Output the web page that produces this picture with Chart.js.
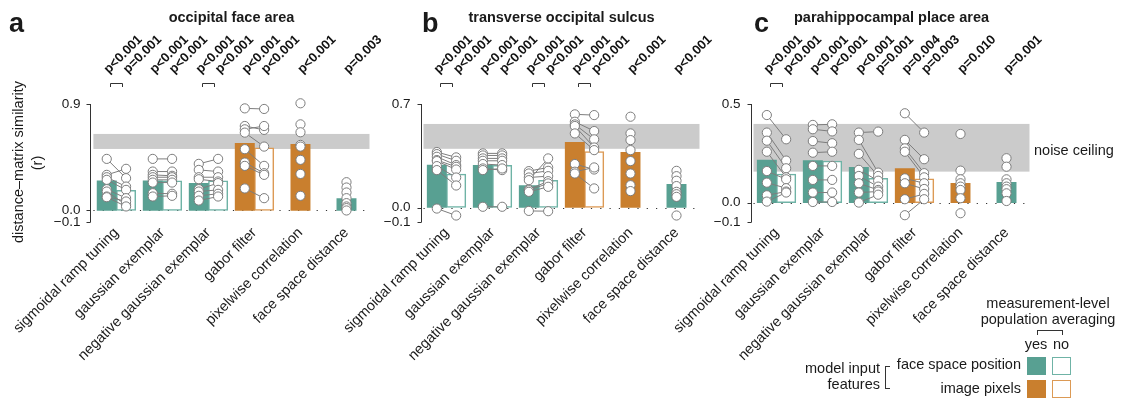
<!DOCTYPE html>
<html>
<head>
<meta charset="utf-8">
<script src="https://cdn.jsdelivr.net/npm/chart.js@4.4.1/dist/chart.umd.min.js"></script>
<style>
body { margin: 0; background: #fff; }
#fig { position: relative; width: 1124px; height: 401px; overflow: hidden; font-family: "Liberation Sans", Arial, sans-serif; color: #1a1a1a; }
#fig canvas { position: absolute; top: 0; }
.t { position: absolute; white-space: nowrap; font-size: 14.5px; line-height: 1; }
.c { transform: translate(-50%, -50%); }
.r { transform: translate(-100%, -50%); }
.l { transform: translate(0, -50%); }
.b { font-weight: bold; }
.letter { position: absolute; font-weight: bold; font-size: 27px; line-height: 1; }
.sq { position: absolute; box-sizing: border-box; }
.ln { position: absolute; background: #333; }
</style>
</head>
<body>
<div id="fig">
  <canvas id="ofa" width="412" height="401" style="left:0px"></canvas>
  <canvas id="tos" width="452" height="401" style="left:290px"></canvas>
  <canvas id="ppa" width="452" height="401" style="left:620px"></canvas>

  <div class="letter" style="left:9px;top:10px">a</div>
  <div class="letter" style="left:422px;top:10px">b</div>
  <div class="letter" style="left:754px;top:10px">c</div>
  <div class="t c b" style="left:231.5px;top:17px">occipital face area</div>
  <div class="t c b" style="left:561.5px;top:17px">transverse occipital sulcus</div>
  <div class="t c b" style="left:891.5px;top:17px">parahippocampal place area</div>

  <div class="t c" style="left:18px;top:162px;transform:translate(-50%,-50%) rotate(-90deg)">distance–matrix similarity</div>
  <div class="t c" style="left:37px;top:163px;transform:translate(-50%,-50%) rotate(-90deg)">(r)</div>

  <div class="t l" style="left:1034px;top:150px">noise ceiling</div>

  <div class="t c" style="left:1048px;top:303px">measurement-level</div>
  <div class="t c" style="left:1048px;top:319px">population averaging</div>
  <div class="ln" style="left:1037px;top:330px;width:26px;height:1px"></div>
  <div class="ln" style="left:1037px;top:330px;width:1px;height:5px"></div>
  <div class="ln" style="left:1062px;top:330px;width:1px;height:5px"></div>
  <div class="t c" style="left:1036px;top:344px">yes</div>
  <div class="t c" style="left:1061px;top:344px">no</div>
  <div class="t r" style="left:1021px;top:364px">face space position</div>
  <div class="t r" style="left:1021px;top:388px">image pixels</div>
  <div class="t r" style="left:880px;top:368px">model input</div>
  <div class="t r" style="left:880px;top:384px">features</div>
  <div class="ln" style="left:885px;top:366px;width:1px;height:23px"></div>
  <div class="ln" style="left:885px;top:366px;width:5px;height:1px"></div>
  <div class="ln" style="left:885px;top:388px;width:5px;height:1px"></div>
  <div class="sq" style="left:1027px;top:357px;width:19px;height:18px;background:#58a092"></div>
  <div class="sq" style="left:1052px;top:357px;width:19px;height:18px;border:1.5px solid #6fb3a6"></div>
  <div class="sq" style="left:1027px;top:380px;width:19px;height:18px;background:#c97f2e"></div>
  <div class="sq" style="left:1052px;top:380px;width:19px;height:18px;border:1.5px solid #dc9a55"></div>
</div>

<script>
// model names, shared by the three panels
const categories = ['sigmoidal ramp tuning', 'gaussian exemplar', 'negative gaussian exemplar',
  'gabor filter', 'pixelwise correlation', 'face space distance'];
const featureType = ['face', 'face', 'face', 'image', 'image', 'face'];

// a: occipital face area
const ofaTicks = [-0.1, 0, 0.9];
const ofaYes = [0.25, 0.25, 0.23, 0.567, 0.56, 0.10];
const ofaNo = [0.17, 0.25, 0.25, 0.53, null, null];
const ofaSubjYes = [
  [0.436, 0.301, 0.281, 0.259, 0.180, 0.160, 0.118, 0.112],
  [0.436, 0.329, 0.301, 0.281, 0.259, 0.236, 0.146, 0.118],
  [0.394, 0.343, 0.281, 0.264, 0.180, 0.160, 0.124, 0.084],
  [0.863, 0.714, 0.686, 0.658, 0.518, 0.405, 0.377, 0.186],
  [0.906, 0.728, 0.661, 0.554, 0.540, 0.428, 0.309, 0.124],
  [0.239, 0.194, 0.152, 0.104, 0.062, 0.034, 0.020, 0.000]
];
const ofaSubjNo = [
  [0.273, 0.352, 0.202, 0.174, 0.104, 0.048, 0.076, 0.034],
  [0.436, 0.329, 0.293, 0.281, 0.259, 0.236, 0.141, 0.124],
  [0.436, 0.329, 0.281, 0.245, 0.231, 0.174, 0.141, 0.118],
  [0.858, 0.681, 0.714, 0.540, 0.377, 0.315, 0.301, 0.104]
];
const ofaNoise = [0.52, 0.647];
const ofaP = ['p<0.001', 'p=0.001', 'p<0.001', 'p<0.001', 'p<0.001', 'p<0.001',
  'p<0.001', 'p<0.001', 'p<0.001', 'p=0.003'];
const ofaBrackets = [0, 2];

// b: transverse occipital sulcus
const tosTicks = [-0.1, 0, 0.7];
const tosYes = [0.287, 0.285, 0.149, 0.440, 0.373, 0.156];
const tosNo = [0.226, 0.285, 0.183, 0.379, null, null];
const tosSubjYes = [
  [0.375, 0.361, 0.343, 0.321, 0.314, 0.280, 0.253, -0.007],
  [0.366, 0.352, 0.332, 0.316, 0.294, 0.264, 0.253, 0.005],
  [0.246, 0.230, 0.203, 0.185, 0.122, 0.117, 0.106, -0.023],
  [0.630, 0.580, 0.562, 0.551, 0.501, 0.294, 0.242, 0.230],
  [0.614, 0.501, 0.456, 0.388, 0.314, 0.230, 0.151, 0.111],
  [0.248, 0.212, 0.181, 0.145, 0.106, 0.090, 0.072, -0.054]
];
const tosSubjNo = [
  [0.339, 0.316, 0.287, 0.275, 0.257, 0.203, 0.149, -0.054],
  [0.366, 0.352, 0.332, 0.316, 0.287, 0.253, 0.264, 0.005],
  [0.271, 0.248, 0.212, 0.332, 0.178, 0.163, 0.140, -0.025],
  [0.625, 0.517, 0.461, 0.406, 0.388, 0.257, 0.271, 0.129]
];
const tosNoise = [0.397, 0.565];
const tosP = ['p<0.001', 'p<0.001', 'p<0.001', 'p<0.001', 'p<0.001', 'p<0.001',
  'p<0.001', 'p<0.001', 'p<0.001', 'p<0.001'];
const tosBrackets = [0, 2, 3];

// c: parahippocampal place area
const ppaTicks = [-0.1, 0, 0.5];
const ppaYes = [0.216, 0.213, 0.179, 0.172, 0.098, 0.103];
const ppaNo = [0.144, 0.211, 0.123, 0.120, null, null];
const ppaSubjYes = [
  [0.444, 0.355, 0.314, 0.258, 0.160, 0.101, 0.037, 0.005],
  [0.394, 0.372, 0.312, 0.253, 0.186, 0.115, 0.051, 0.003],
  [0.355, 0.318, 0.247, 0.166, 0.135, 0.098, 0.051, 0.000],
  [0.453, 0.318, 0.275, 0.258, 0.123, 0.098, 0.017, -0.064],
  [0.348, 0.162, 0.118, 0.098, 0.081, 0.064, 0.022, -0.054],
  [0.225, 0.182, 0.118, 0.098, 0.081, 0.068, 0.047, 0.008]
];
const ppaSubjNo = [
  [0.321, 0.213, 0.174, 0.128, 0.118, 0.073, 0.056, 0.051],
  [0.397, 0.361, 0.301, 0.258, 0.186, 0.115, 0.051, 0.003],
  [0.360, 0.152, 0.135, 0.111, 0.081, 0.064, 0.056, 0.040],
  [0.355, 0.220, 0.149, 0.128, 0.098, 0.069, 0.044, 0.017]
];
const ppaNoise = [0.157, 0.399];
const ppaP = ['p<0.001', 'p<0.001', 'p<0.001', 'p<0.001', 'p<0.001', 'p=0.001',
  'p=0.004', 'p=0.003', 'p=0.010', 'p=0.001'];
const ppaBrackets = [0];

const TEAL = '#58a092', TEAL_LINE = '#6fb3a6', ORANGE = '#c97f2e', ORANGE_LINE = '#dc9a55';
const DOT = '#7d7d7d';
const FONT = '"Liberation Sans", Arial, sans-serif';
const BAR_W = 19.3;
const DOT_OFF = 0.21; // half a bar, in category units

// bar centres: left/right of the category when both exist, centred otherwise
function yesX(no, i) { return no[i] != null ? i - DOT_OFF : i; }

function yesBars(yes, no) {
  return yes.map(function(v, i) { return {x: yesX(no, i), y: v}; });
}

function noBars(no) {
  const out = [];
  no.forEach(function(v, i) { if (v != null) out.push({x: i + DOT_OFF, y: v}); });
  return out;
}

function pairPoints(subjYes, subjNo) {
  const pts = [];
  subjNo.forEach(function(col, i) {
    col.forEach(function(v, k) {
      pts.push({x: i - DOT_OFF, y: subjYes[i][k]}, {x: i + DOT_OFF, y: v}, {x: i, y: null});
    });
  });
  return pts;
}

function singlePoints(subjYes, from) {
  const pts = [];
  for (let i = from; i < subjYes.length; i++)
    subjYes[i].forEach(function(v) { pts.push({x: i, y: v}); });
  return pts;
}

function fmtTick(v) {
  if (Math.abs(v) < 1e-9) return '0.0';
  return v < 0 ? '\u2212' + Math.abs(v).toFixed(1) : v.toFixed(1);
}

const extras = {
  id: 'extras',
  beforeDatasetsDraw(chart, args, opts) {
    const ctx = chart.ctx, a = chart.chartArea, y = chart.scales.y;
    ctx.save();
    const top = y.getPixelForValue(opts.noise[1]), bot = y.getPixelForValue(opts.noise[0]);
    ctx.fillStyle = '#cbcbcb';
    ctx.fillRect(a.left, top, a.right - a.left, bot - top);
    const z = Math.round(y.getPixelForValue(0)) + 0.5;
    ctx.strokeStyle = '#333';
    ctx.lineWidth = 1.2;
    ctx.setLineDash([1.2, 8.1]);
    ctx.beginPath();
    ctx.moveTo(a.left, z);
    ctx.lineTo(a.right, z);
    ctx.stroke();
    ctx.restore();
  },
  afterDraw(chart, args, opts) {
    const ctx = chart.ctx, a = chart.chartArea, y = chart.scales.y, xl = chart.scales.xl;
    ctx.save();
    // offset y axis with ticks
    const ax = Math.round(a.left - 3) + 0.5;
    ctx.strokeStyle = '#333';
    ctx.lineWidth = 1;
    ctx.beginPath();
    ctx.moveTo(ax, y.getPixelForValue(y.max));
    ctx.lineTo(ax, y.getPixelForValue(y.min));
    y.ticks.forEach(function(t) {
      const py = Math.round(y.getPixelForValue(t.value)) + 0.5;
      ctx.moveTo(ax - 4, py);
      ctx.lineTo(ax, py);
    });
    ctx.stroke();

    // p-values over every bar, left to right
    const xs = chart.getDatasetMeta(0).data.concat(chart.getDatasetMeta(1).data)
      .map(function(b) { return b.x; })
      .sort(function(m, n) { return m - n; });
    ctx.font = 'bold 13px ' + FONT;
    ctx.fillStyle = '#111';
    ctx.textAlign = 'left';
    ctx.textBaseline = 'alphabetic';
    xs.forEach(function(x, k) {
      ctx.save();
      ctx.translate(x + 2, 74);
      ctx.rotate(-Math.PI / 4);
      ctx.fillText(opts.pLabels[k], 0, 0);
      ctx.restore();
    });

    // yes-vs-no brackets
    ctx.beginPath();
    opts.brackets.forEach(function(i) {
      const x0 = Math.round(xl.getPixelForValue(i - DOT_OFF) + 3) + 0.5;
      const x1 = Math.round(xl.getPixelForValue(i + DOT_OFF) - 4) + 0.5;
      ctx.moveTo(x0, 87);
      ctx.lineTo(x0, 83.5);
      ctx.lineTo(x1, 83.5);
      ctx.lineTo(x1, 87);
    });
    ctx.stroke();
    ctx.restore();
  }
};

function makePanel(id, p) {
  const fills = featureType.map(function(t) { return t === 'face' ? TEAL : ORANGE; });
  const edges = featureType.filter(function(t, i) { return p.no[i] != null; })
    .map(function(t) { return t === 'face' ? TEAL_LINE : ORANGE_LINE; });
  const barOpts = {
    xAxisID: 'xl', yAxisID: 'y', grouped: false,
    barPercentage: 1, categoryPercentage: 1, maxBarThickness: BAR_W
  };
  return new Chart(document.getElementById(id), {
    type: 'bar',
    data: {
      labels: categories,
      datasets: [
        Object.assign({
          label: 'yes', data: yesBars(p.yes, p.no),
          backgroundColor: fills, borderWidth: 0, order: 2
        }, barOpts),
        Object.assign({
          label: 'no', data: noBars(p.no),
          backgroundColor: '#fff', borderColor: edges, borderWidth: 1.5, borderSkipped: false, order: 2
        }, barOpts),
        {
          type: 'scatter', label: 'pairs', data: pairPoints(p.subjYes, p.subjNo),
          xAxisID: 'xl', yAxisID: 'y', showLine: true, spanGaps: false,
          borderColor: DOT, borderWidth: 1, pointRadius: 4.6, pointBorderWidth: 1,
          pointBackgroundColor: '#fff', pointBorderColor: DOT, clip: false, order: 1
        },
        {
          type: 'scatter', label: 'single', data: singlePoints(p.subjYes, p.subjNo.length),
          xAxisID: 'xl', yAxisID: 'y', showLine: false,
          pointRadius: 4.6, pointBorderWidth: 1,
          pointBackgroundColor: '#fff', pointBorderColor: DOT, clip: false, order: 0
        }
      ]
    },
    options: {
      responsive: false,
      animation: false,
      devicePixelRatio: 1,
      layout: {autoPadding: false, padding: {top: 104, left: 0, right: p.padRight, bottom: 0}},
      plugins: {
        legend: {display: false},
        tooltip: {enabled: false},
        extras: {noise: p.noise, pLabels: p.pLabels, brackets: p.brackets}
      },
      scales: {
        x: {
          type: 'category',
          offset: true,
          grid: {display: false, drawTicks: false},
          border: {display: false},
          ticks: {
            minRotation: 45, maxRotation: 45, autoSkip: false, padding: 2,
            color: '#1a1a1a', font: {family: FONT, size: 14.5}
          },
          afterFit: function(s) { s.height = 401 - 222.3; s.paddingLeft = 0; s.paddingRight = 0; }
        },
        xl: {
          type: 'linear', display: false, offset: false, min: -0.5, max: 5.5,
          grid: {offset: false}, ticks: {stepSize: 1}
        },
        y: {
          type: 'linear',
          min: p.ticks[0], max: p.ticks[p.ticks.length - 1],
          grid: {display: false, drawTicks: false},
          border: {display: false},
          afterBuildTicks: function(s) { s.ticks = p.ticks.map(function(v) { return {value: v}; }); },
          ticks: {
            autoSkip: false, padding: 13, color: '#1a1a1a',
            font: {family: FONT, size: 13.5},
            callback: function(v) { return fmtTick(v); }
          },
          afterFit: function(s) { s.width = p.yWidth; s.paddingTop = 0; s.paddingBottom = 0; }
        }
      }
    },
    plugins: [extras]
  });
}

makePanel('ofa', {
  ticks: ofaTicks, yes: ofaYes, no: ofaNo, subjYes: ofaSubjYes, subjNo: ofaSubjNo,
  noise: ofaNoise, pLabels: ofaP, brackets: ofaBrackets, yWidth: 93.4, padRight: 42.5
});
makePanel('tos', {
  ticks: tosTicks, yes: tosYes, no: tosNo, subjYes: tosSubjYes, subjNo: tosSubjNo,
  noise: tosNoise, pLabels: tosP, brackets: tosBrackets, yWidth: 133.5, padRight: 42.5
});
makePanel('ppa', {
  ticks: ppaTicks, yes: ppaYes, no: ppaNo, subjYes: ppaSubjYes, subjNo: ppaSubjNo,
  noise: ppaNoise, pLabels: ppaP, brackets: ppaBrackets, yWidth: 133.5, padRight: 42.5
});
</script>
</body>
</html>
